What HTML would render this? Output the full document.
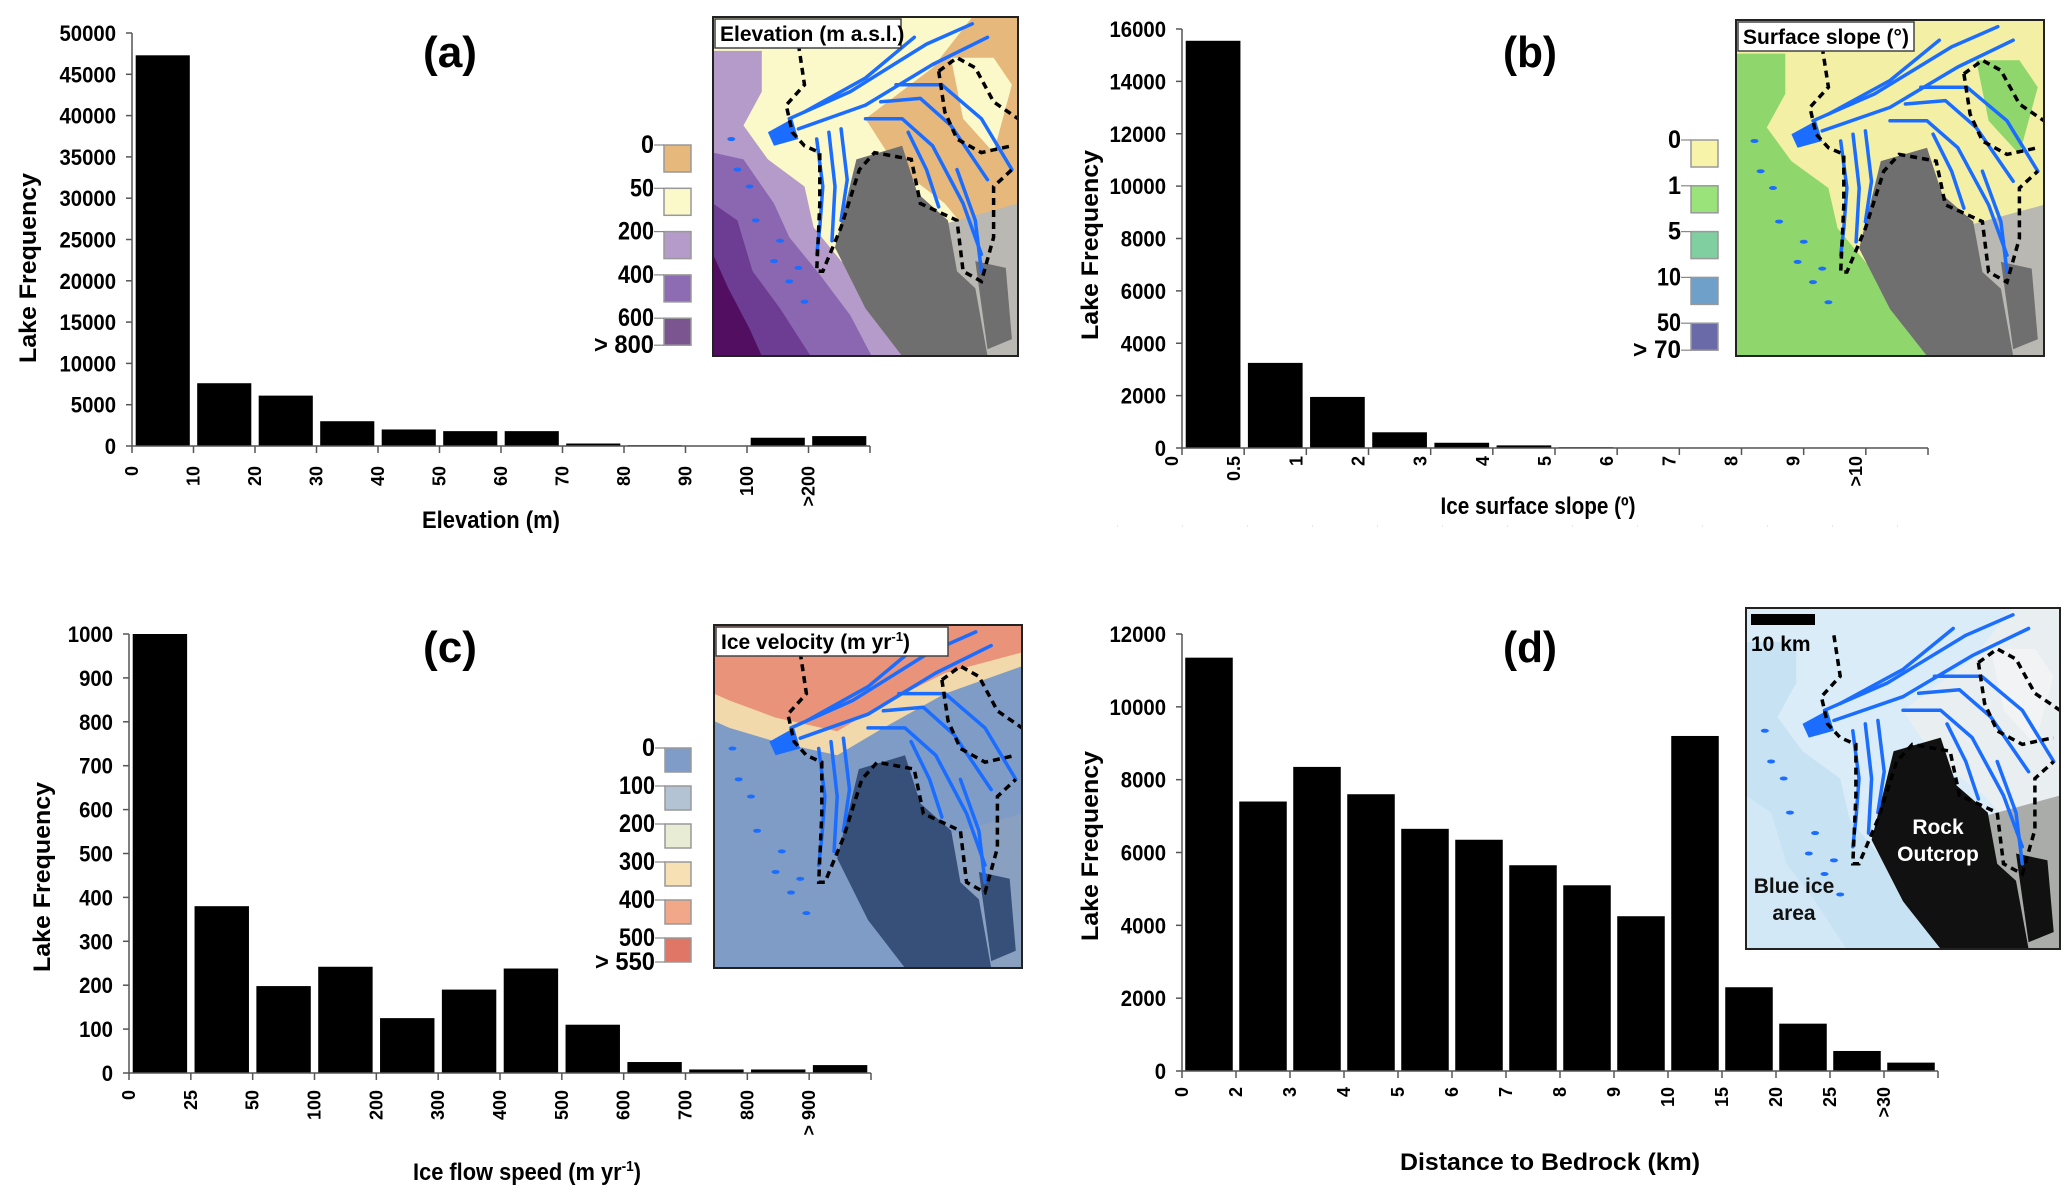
<!DOCTYPE html>
<html><head><meta charset="utf-8">
<style>
html,body{margin:0;padding:0;background:#fff;}
svg{display:block;font-family:"Liberation Sans",Arial,sans-serif;font-weight:bold;}
</style></head>
<body>
<svg id="fig" width="2067" height="1202" viewBox="0 0 2067 1202" xmlns="http://www.w3.org/2000/svg">
<rect width="2067" height="1202" fill="#fff"/>
</svg>
<script>
// ---- Panel (a) data ----
const aLabels = ["0","10","20","30","40","50","60","70","80","90","100",">200"];
const aValues = [47300,7600,6100,3000,2000,1800,1800,300,100,40,1000,1200];
const aTicks = [0,5000,10000,15000,20000,25000,30000,35000,40000,45000,50000];
// ---- Panel (b) data ----
const bLabels = ["0","0.5","1","2","3","4","5","6","7","8","9",">10"];
const bValues = [15550,3250,1950,600,200,100,30,20,20,20,20,20];
const bTicks = [0,2000,4000,6000,8000,10000,12000,14000,16000];
// ---- Panel (c) data ----
const cLabels = ["0","25","50","100","200","300","400","500","600","700","800","> 900"];
const cValues = [1000,380,198,242,125,190,238,110,25,8,8,18];
const cTicks = [0,100,200,300,400,500,600,700,800,900,1000];
// ---- Panel (d) data ----
const dLabels = ["0","2","3","4","5","6","7","8","9","10","15","20","25",">30"];
const dValues = [11350,7400,8350,7600,6650,6350,5650,5100,4250,9200,2300,1300,550,230];
const dTicks = [0,2000,4000,6000,8000,10000,12000];
// legend labels
const aLegLabels = ["0","50","200","400","600","> 800"];
const bLegLabels = ["0","1","5","10","50","> 70"];
const cLegLabels = ["0","100","200","300","400","500","> 550"];

const NS="http://www.w3.org/2000/svg";
const svg=document.getElementById('fig');
function mk(tag,attrs,parent){const e=document.createElementNS(NS,tag);for(const k in attrs)e.setAttribute(k,attrs[k]);(parent||svg).appendChild(e);return e;}

function chart(id,cfg,labels,values,ticks){
  const g=mk('g',{});
  
  
  const max=ticks[ticks.length-1];
  const n=values.length;
  const slot=(cfg.x1-cfg.x0)/n;
  const xs=i=>cfg.x0+i*slot;
  const ys=v=>cfg.y0-(v/max)*(cfg.y0-cfg.yTop);
  values.forEach((v,i)=>{
    const r=mk('rect',{x:xs(i)+slot*0.06,y:ys(v),width:slot*0.88,height:Math.max(cfg.y0-ys(v),0.8),fill:'#000'},g);
    
    
  });
  const ya=mk('line',{x1:cfg.x0,y1:cfg.yTop,x2:cfg.x0,y2:cfg.y0,stroke:'#555','stroke-width':1.5},g);
  
  
  ticks.forEach(t=>{
    mk('line',{x1:cfg.x0-6,y1:ys(t),x2:cfg.x0,y2:ys(t),stroke:'#555','stroke-width':1.5},g);
    const s=String(t);
    const tx=mk('text',{x:cfg.x0-16,y:ys(t)+8,'text-anchor':'end','font-size':22,textLength:s.length*11.3,lengthAdjust:'spacingAndGlyphs'},g);
    tx.textContent=s;
    
    
  });
  const xa=mk('line',{x1:cfg.x0,y1:cfg.y0,x2:cfg.x1,y2:cfg.y0,stroke:'#555','stroke-width':1.5},g);
  
  
  for(let i=0;i<=n;i++) mk('line',{x1:xs(i),y1:cfg.y0,x2:xs(i),y2:cfg.y0+7,stroke:'#555','stroke-width':1.5},g);
  labels.forEach((l,i)=>{
    const x=xs(i)+cfg.lblDx, y=cfg.lblTop;
    const tx=mk('text',{x:x,y:y,'text-anchor':'end','dominant-baseline':'central','font-size':18,transform:`rotate(-90 ${x} ${y})`},g);
    tx.textContent=l;
    
    
  });
  const yt=mk('text',{x:cfg.ytX,y:cfg.ytY,'text-anchor':'middle','font-size':24,textLength:190,lengthAdjust:'spacingAndGlyphs',transform:`rotate(-90 ${cfg.ytX} ${cfg.ytY})`},g);
  yt.textContent='Lake Frequency';
  
  
  const xt=mk('text',{x:cfg.xtX,y:cfg.xtY,'text-anchor':'middle','font-size':24,textLength:cfg.xtLen,lengthAdjust:'spacingAndGlyphs'},g);
  if(cfg.xtSup){xt.appendChild(document.createTextNode(cfg.xt));const s=mk('tspan',{'font-size':15,dy:-9},xt);s.textContent=cfg.xtSup;const s2=mk('tspan',{dy:9},xt);s2.textContent=')';}
  else xt.textContent=cfg.xt;
  
  
  const pt=mk('text',{x:cfg.ptX,y:cfg.ptY+15,'text-anchor':'middle','font-size':44,textLength:54,lengthAdjust:'spacingAndGlyphs'},g);
  pt.textContent=cfg.pt;
  
  
}

function legend(id,x,top,step,h,w,colors,labels){
  const g=mk('g',{});
  
  
  colors.forEach((c,i)=>{
    const r=mk('rect',{x:x,y:top+i*step,width:w,height:h,fill:c,stroke:'#999','stroke-width':1.5},g);
    
    
  });
  labels.forEach((l,i)=>{
    const yy=(i<colors.length)?top+i*step:top+(colors.length-1)*step+h;
    mk('line',{x1:x-10,y1:yy,x2:x,y2:yy,stroke:'#888','stroke-width':1.2},g);
    const t=mk('text',{x:x-10,y:yy+8,'text-anchor':'end','font-size':25,textLength:Math.max(13,l.length*12),lengthAdjust:'spacingAndGlyphs'},g);
    t.textContent=l;
    
    
  });
}

function P(pts,X,Y,W,H){return pts.map(p=>(X+p[0]*W).toFixed(1)+','+(Y+p[1]*H).toFixed(1)).join(' ');}
function mapInset(id,X,Y,W,H,pal,title,sup,titleW){
  const g=mk('g',{});
  
  
  const cp=mk('clipPath',{id:'clip'+id},g);
  mk('rect',{x:X,y:Y,width:W,height:H},cp);
  const m=mk('g',{'clip-path':`url(#clip${id})`},g);
  mk('rect',{x:X,y:Y,width:W,height:H,fill:pal.bg},m);
  if(pal.top) mk('polygon',{points:P([[0,0],[1,0],[1,0.12],[0.75,0.2],[0.55,0.3],[0.4,0.38],[0.2,0.34],[0.05,0.3],[0,0.28]],X,Y,W,H),fill:pal.top},m);
  if(pal.top2) mk('polygon',{points:P([[0,0],[1,0],[1,0.08],[0.75,0.14],[0.55,0.23],[0.4,0.31],[0.2,0.27],[0.05,0.22],[0,0.2]],X,Y,W,H),fill:pal.top2},m);
  const bands=[
    [[0,0.1],[0.16,0.1],[0.16,0.22],[0.1,0.32],[0.18,0.42],[0.3,0.5],[0.33,0.62],[0.42,0.72],[0.52,0.8],[0.66,0.92],[0.66,1],[0,1]],
    [[0,0.4],[0.1,0.42],[0.2,0.55],[0.25,0.65],[0.35,0.76],[0.45,0.88],[0.52,1],[0,1]],
    [[0,0.55],[0.08,0.6],[0.13,0.75],[0.22,0.86],[0.32,1],[0,1]],
    [[0,0.7],[0.05,0.8],[0.12,0.92],[0.16,1],[0,1]]];
  bands.forEach((b,i)=>{if(pal.bands[i])mk('polygon',{points:P(b,X,Y,W,H),fill:pal.bands[i]},m);});
  if(pal.tan) mk('polygon',{points:P([[0.5,0.3],[0.72,0.15],[0.85,0],[1,0],[1,0.55],[0.88,0.68],[0.76,0.55],[0.6,0.44]],X,Y,W,H),fill:pal.tan},m);
  if(pal.cream) mk('polygon',{points:P([[0.78,0.12],[0.92,0.12],[0.98,0.2],[0.92,0.4],[0.82,0.3]],X,Y,W,H),fill:pal.cream},m);
  mk('polygon',{points:P([[0.72,0.62],[1,0.55],[1,1],[0.78,1]],X,Y,W,H),fill:pal.rock2},m);
  mk('polygon',{points:P([[0.47,0.42],[0.62,0.38],[0.67,0.52],[0.77,0.6],[0.8,0.75],[0.86,0.8],[0.9,1],[0.62,1],[0.5,0.86],[0.4,0.68]],X,Y,W,H),fill:pal.rock},m);
  mk('polygon',{points:P([[0.86,0.72],[0.96,0.74],[0.98,0.95],[0.9,0.98]],X,Y,W,H),fill:pal.rock},m);
  const streaks=[
    [[0.25,0.3],[0.45,0.22],[0.7,0.08],[0.85,0.02]],
    [[0.28,0.33],[0.5,0.26],[0.72,0.14],[0.9,0.06]],
    [[0.3,0.28],[0.5,0.18],[0.66,0.06]],
    [[0.34,0.36],[0.36,0.5],[0.35,0.62],[0.34,0.7]],
    [[0.38,0.34],[0.4,0.5],[0.39,0.66]],
    [[0.42,0.33],[0.44,0.48],[0.42,0.6]],
    [[0.5,0.3],[0.62,0.3],[0.72,0.38],[0.82,0.55],[0.88,0.7]],
    [[0.55,0.25],[0.68,0.24],[0.78,0.32],[0.9,0.48]],
    [[0.6,0.2],[0.75,0.2],[0.88,0.3],[0.98,0.45]],
    [[0.8,0.45],[0.86,0.6],[0.88,0.75]],
    [[0.64,0.34],[0.7,0.45],[0.74,0.56]]];
  streaks.forEach(s=>mk('polyline',{points:P(s,X,Y,W,H),fill:'none',stroke:'#1a6dff','stroke-width':3.5,'stroke-linecap':'round','stroke-linejoin':'round'},m));
  mk('polygon',{points:P([[0.18,0.34],[0.26,0.3],[0.28,0.36],[0.2,0.38]],X,Y,W,H),fill:'#1a6dff'},m);
  [[0.2,0.72],[0.25,0.78],[0.14,0.6],[0.3,0.84],[0.08,0.45],[0.12,0.5],[0.22,0.66],[0.28,0.74],[0.06,0.36]].forEach(p=>mk('ellipse',{cx:X+p[0]*W,cy:Y+p[1]*H,rx:4,ry:2,fill:'#1a6dff'},m));
  const dashes=[
    [[0.28,0.08],[0.3,0.2],[0.24,0.26],[0.26,0.34],[0.3,0.38],[0.35,0.4],[0.35,0.55],[0.34,0.75],[0.36,0.75],[0.42,0.62],[0.48,0.45],[0.53,0.4],[0.65,0.42],[0.68,0.55],[0.8,0.6],[0.82,0.75],[0.88,0.78],[0.92,0.65],[0.92,0.5],[0.98,0.45]],
    [[0.74,0.16],[0.8,0.12],[0.86,0.15],[0.92,0.25],[1,0.3]],
    [[0.74,0.16],[0.76,0.28],[0.8,0.36],[0.88,0.4],[0.98,0.38]]];
  dashes.forEach(d=>mk('polyline',{points:P(d,X,Y,W,H),fill:'none',stroke:'#000','stroke-width':3.5,'stroke-dasharray':'7 5'},m));
  mk('rect',{x:X,y:Y,width:W,height:H,fill:'none',stroke:'#222','stroke-width':2},g);
  if(title){
    mk('rect',{x:X+2,y:Y+2,width:titleW,height:29,fill:'#fff',stroke:'#444','stroke-width':1.5},g);
    const t=mk('text',{x:X+7,y:Y+24,'font-size':21},g);
    t.textContent=title;
    if(sup){const s=mk('tspan',{'font-size':13,dy:-8},t);s.textContent=sup;const s2=mk('tspan',{dy:8},t);s2.textContent=')';}
    
    
  }
  return g;
}

chart('elevation',{x0:132,x1:870,yTop:33,y0:446,lblTop:466,lblDx:0,ytX:36,ytY:268,xtX:491,xtY:528,xtLen:138,xt:'Elevation (m)',ptX:450,ptY:52,pt:'(a)'},aLabels,aValues,aTicks);
chart('slope',{x0:1182,x1:1928,yTop:29,y0:448,lblTop:456,lblDx:-10,ytX:1098,ytY:245,xtX:1538,xtY:514,xtLen:195,xt:'Ice surface slope (º)',ptX:1530,ptY:52,pt:'(b)'},bLabels,bValues,bTicks);
chart('velocity',{x0:129,x1:871,yTop:634,y0:1073,lblTop:1090,lblDx:0,ytX:50,ytY:877,xtX:527,xtY:1180,xtLen:228,xt:'Ice flow speed (m yr',xtSup:'-1',ptX:450,ptY:647,pt:'(c)'},cLabels,cValues,cTicks);
chart('distance',{x0:1182,x1:1938,yTop:634,y0:1071,lblTop:1087,lblDx:0,ytX:1098,ytY:846,xtX:1550,xtY:1170,xtLen:300,xt:'Distance to Bedrock (km)',ptX:1530,ptY:647,pt:'(d)'},dLabels,dValues,dTicks);

mapInset('a',713,17,305,339,{bg:'#fbf8c9',bands:['#b59bc9','#8b67b1','#6d3c93','#520f62'],tan:'#e6b87c',cream:'#fbf8c9',rock:'#6f6f6f',rock2:'#b9b8b2'},'Elevation (m a.s.l.)',null,186);
mapInset('b',1736,20,308,336,{bg:'#f3f0a6',bands:['#8fd66c','#8fd66c','#8fd66c','#8fd66c'],tan:'#f3f0a6',cream:'#8fd66c',rock:'#6f6f6f',rock2:'#b9b8b2'},'Surface slope (°)',null,176);
mapInset('c',714,625,308,343,{bg:'#7f9cc7',top:'#f1d9ab',top2:'#e9937a',bands:[null,null,null,null],tan:null,cream:null,rock:'#36507a',rock2:'#8aa0c0'},'Ice velocity (m yr',"-1",232);
mapInset('d',1746,608,314,341,{bg:'#d9ecf7',bands:['#c7e2f3',null,'#d2e8f6',null],tan:'#e9eef1',cream:'#f1f3f4',rock:'#111',rock2:'#a9aca9'},null,null,0);

legend('elevation',664,145,43.3,27,27,['#e6b87c','#fbf8c9','#b59bc9','#8d6cb3','#7b558f'],aLegLabels);
legend('slope',1691,140,45.8,27,27,['#f7f4a9','#9ae27a','#7fcfa0','#6fa0c9','#6a6aa8'],bLegLabels);
legend('velocity',665,748,38,24,26,['#7f9cc8','#b3c3d3','#e9ecd4','#f7e0b4','#f1a889','#e07766'],cLegLabels);

const sb=mk('rect',{x:1751,y:614,width:64,height:11,fill:'#000'});


const sbt=mk('text',{x:1751,y:651,'font-size':21});
sbt.textContent='10 km';


[['Rock',1938,834,'#fff'],['Outcrop',1938,861,'#fff'],['Blue ice',1794,893,'#111'],['area',1794,920,'#111']].forEach(a=>{
  const t=mk('text',{x:a[1],y:a[2],'text-anchor':'middle','font-size':21,fill:a[3]});
  t.textContent=a[0];
  
  
});
const dl=mk('line',{x1:1117,y1:526,x2:1905,y2:526,stroke:'#ccc','stroke-width':1,'stroke-dasharray':'1 64'});


</script>
</body></html>
